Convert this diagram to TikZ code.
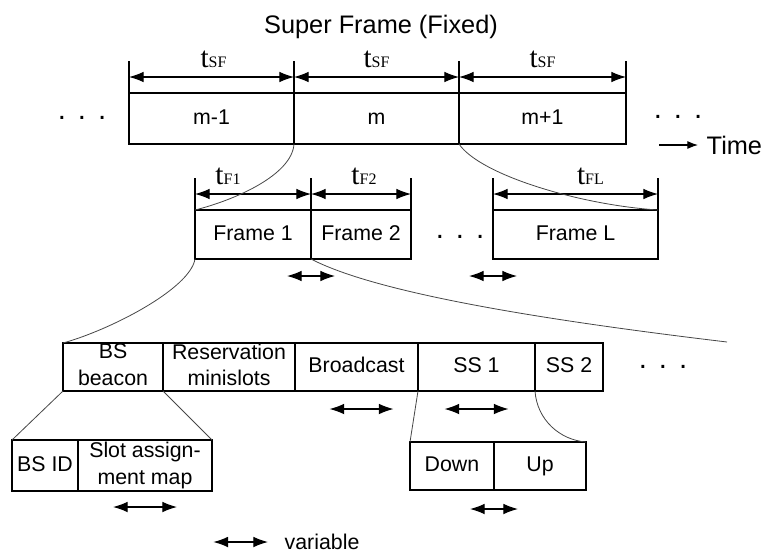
\documentclass[tikz,border=0pt]{standalone}
\usepackage{fontspec}
\setmainfont{Liberation Sans}
\newfontfamily\labelserif{Liberation Serif}
\usetikzlibrary{arrows.meta}
\newcommand\tlab[1]{{\labelserif\fontsize{22}{22}\selectfont t\fontsize{12}{12}\selectfont #1}}
\newcommand\cellstrut{\rule[-3.5pt]{0pt}{15.5pt}}
\begin{document}
\begin{tikzpicture}[x=0.75pt,y=-0.75pt,font=\fontsize{16}{20}\selectfont,
  cell/.style={draw,line width=1.1pt,inner sep=0pt,outer sep=0pt,anchor=north west,align=center,
    execute at begin node=\cellstrut,execute at end node=\cellstrut},
  dim/.style={{Latex[length=11pt,width=8pt]}-{Latex[length=11pt,width=8pt]},line width=0.9pt},
  tick/.style={line width=0.8pt},
  dots/.style={font=\fontsize{22}{22}\selectfont},
  zoomline/.style={gray!55!black,line width=0.6pt}]
\useasboundingbox (0,0) rectangle (767,554);
\node[font=\fontsize{19}{23}\selectfont] (title) at (381,27) {Super Frame (Fixed)};
\foreach \n/\a/\b/\t/\h/\w in {sfa/129/294/93/51/m-1, sfb/294/459/93/51/m, sfc/459/626/93/51/m+1,
  fr1/195/311/210/49/Frame 1, fr2/311/411/210/49/Frame 2, frL/493/658/210/49/Frame L,
  bsb/63/163/343/48/{BS\\beacon}, res/163/295/343/48/{Reservation\\minislots}, brd/295/418/343/48/Broadcast,
  ss1/418/535/343/48/SS 1, ss2/535/603/343/48/SS 2, bsid/12/78/440/51/BS ID,
  slot/78/212/440/51/{Slot assign-\\ment map}, down/410/494/442/48/Down, up/494/586/442/48/Up}
  \node[cell,minimum width=(\b-\a)*0.75pt,minimum height=\h*0.75pt] (\n) at (\a,\t) {\w};
\foreach \n/\s/\dx in {sfa/SF/2, sfb/SF/0, sfc/SF/0, fr1/F1/-25, fr2/F2/3, frL/FL/15}{
  \draw[tick] (\n.north west) -- ++(0,-32);
  \draw[tick] (\n.north east) -- ++(0,-32);
  \draw[dim] ([yshift=12pt]\n.north west) -- ([yshift=12pt]\n.north east);
  \node[anchor=base,inner sep=0pt] (t\n) at ([xshift=\dx*0.75pt,yshift=19pt]\n.north) {\tlab{\s}};}
\foreach \p/\dx/\dy/\hl in {fr1.south east/0/17/18, frL.south west/0/17/18, brd.south/5/18/24,
  ss1.south/0/18/24, slot.south/0/16/24, down.south east/0/19/18}
  \draw[dim] ([xshift=\dx*0.75pt-\hl pt,yshift=-\dy*0.75pt]\p) -- ([xshift=\dx*0.75pt+\hl pt,yshift=-\dy*0.75pt]\p);
\node[dots] (dl) at (82,118) {.\hspace{9pt}.\hspace{9pt}.};
\node[dots] (dr) at (678,117) {.\hspace{9pt}.\hspace{9pt}.};
\node[dots] (dm) at (460,237) {.\hspace{9pt}.\hspace{9pt}.};
\node[dots] (db) at (663,367) {.\hspace{9pt}.\hspace{9pt}.};
\node[anchor=west,font=\fontsize{19}{23}\selectfont] (time) at (702,145) {Time};
\draw[-{Latex[length=8pt,width=6pt]},line width=0.8pt] ([xshift=-32pt]time.west) -- ([xshift=-3pt]time.west);
\node[anchor=west] (varlab) at (280,542) {variable};
\draw[dim] ([xshift=-50pt]varlab.west) -- ([xshift=-9pt]varlab.west);
\coordinate (tail) at (727,342);
\draw[zoomline] (sfb.south west) .. controls +(-2,31) and +(40,-10) .. (fr1.north west);
\draw[zoomline] (sfc.south west) .. controls +(21,31) and +(-78,-5) .. (frL.north east);
\draw[zoomline] (fr1.south west) .. controls +(-5,30) and +(47,-13) .. (bsb.north west);
\draw[zoomline] (fr1.south east) .. controls +(69,36) and +(-167,-20) .. (tail);
\draw[zoomline] (bsb.south west) -- (bsid.north west);
\draw[zoomline] (bsb.south east) -- (slot.north east);
\draw[zoomline] (ss1.south west) -- (down.north west);
\draw[zoomline] (ss2.south west) .. controls +(2,29) and +(-26,-2) .. (up.north east);
\end{tikzpicture}
\end{document}
